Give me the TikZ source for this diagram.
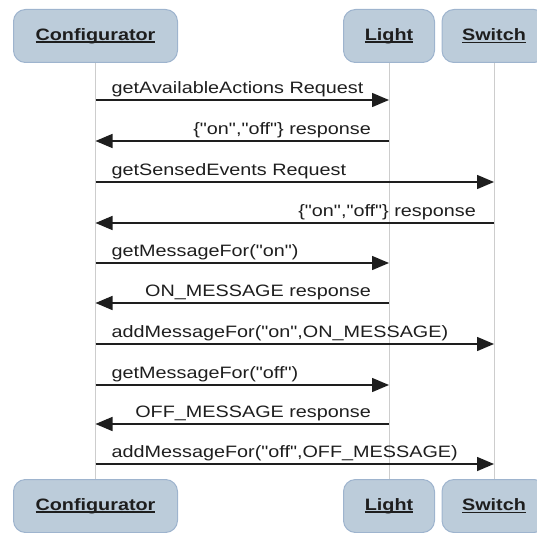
\documentclass[tikz,border=0pt]{standalone}
\usepackage{fontspec}
\setmainfont{Liberation Sans}[Ligatures=TeXOff]
\usetikzlibrary{arrows.meta}
\definecolor{boxfill}{RGB}{188,204,218}
\definecolor{boxdraw}{RGB}{158,180,206}
\definecolor{life}{RGB}{205,205,205}
\definecolor{ink}{RGB}{30,30,30}
\newcommand{\wide}[1]{\scalebox{1.2}[1]{#1}}
\newcommand{\ulbl}[1]{\setbox0\hbox{#1}\rlap{\rule[-2.6pt]{\wd0}{1.5pt}}\box0}
\newcommand{\callmsg}[4]{%
  \coordinate (row#1) at (0,#1);
  \draw[msg] (#2 |- row#1) -- (#3 |- row#1);
  \path (#2 |- row#1) ++(16,-7) node[lbl,anchor=base west]{\wide{#4}};}
\newcommand{\replymsg}[4]{%
  \coordinate (row#1) at (0,#1);
  \draw[msg] (#2 |- row#1) -- (#3 |- row#1);
  \path (#2 |- row#1) ++(-18,-7) node[lbl,anchor=base east]{\wide{#4}};}
\begin{document}
\begin{tikzpicture}[x=1pt,y=-1pt,
  actor/.style={draw=boxdraw, fill=boxfill, rounded corners=12pt, line width=1pt,
    minimum height=53pt, inner sep=0pt, text=ink,
    font=\fontsize{16.5}{20}\selectfont\bfseries},
  lifeline/.style={draw=life, line width=1pt},
  msg/.style={draw=ink, line width=1.5pt, -{Triangle[length=17pt,width=14pt]}},
  lbl/.style={font=\fontsize{16.5}{20}\selectfont, text=ink, inner sep=0pt}]
\useasboundingbox (0,0) rectangle (537,532);
% heads
\node[actor, minimum width=164pt] (cfgH) at (95.5,36) {\wide{\ulbl{Configurator}}};
\node[actor, minimum width=91pt] (lgtH) at (389,36) {\wide{\ulbl{Light}}};
\node[actor, minimum width=104pt] (swH) at (494,36) {\wide{\ulbl{Switch}}};
% feet
\node[actor, minimum width=164pt] (cfgF) at (95.5,506) {\wide{\ulbl{Configurator}}};
\node[actor, minimum width=91pt] (lgtF) at (389,506) {\wide{\ulbl{Light}}};
\node[actor, minimum width=104pt] (swF) at (494,506) {\wide{\ulbl{Switch}}};
% lifelines
\draw[lifeline] (cfgH) -- (cfgF);
\draw[lifeline] (lgtH) -- (lgtF);
\draw[lifeline] (swH) -- (swF);
% messages
\callmsg{100}{cfgH}{lgtH}{getAvailableActions Request}
\replymsg{141}{lgtH}{cfgH}{\{"on","off"\} response}
\callmsg{182}{cfgH}{swH}{getSensedEvents Request}
\replymsg{223}{swH}{cfgH}{\{"on","off"\} response}
\callmsg{263}{cfgH}{lgtH}{getMessageFor("on")}
\replymsg{303}{lgtH}{cfgH}{ON\_MESSAGE response}
\callmsg{344}{cfgH}{swH}{addMessageFor("on",ON\_MESSAGE)}
\callmsg{385}{cfgH}{lgtH}{getMessageFor("off")}
\replymsg{424}{lgtH}{cfgH}{OFF\_MESSAGE response}
\callmsg{464}{cfgH}{swH}{addMessageFor("off",OFF\_MESSAGE)}
\end{tikzpicture}
\end{document}
